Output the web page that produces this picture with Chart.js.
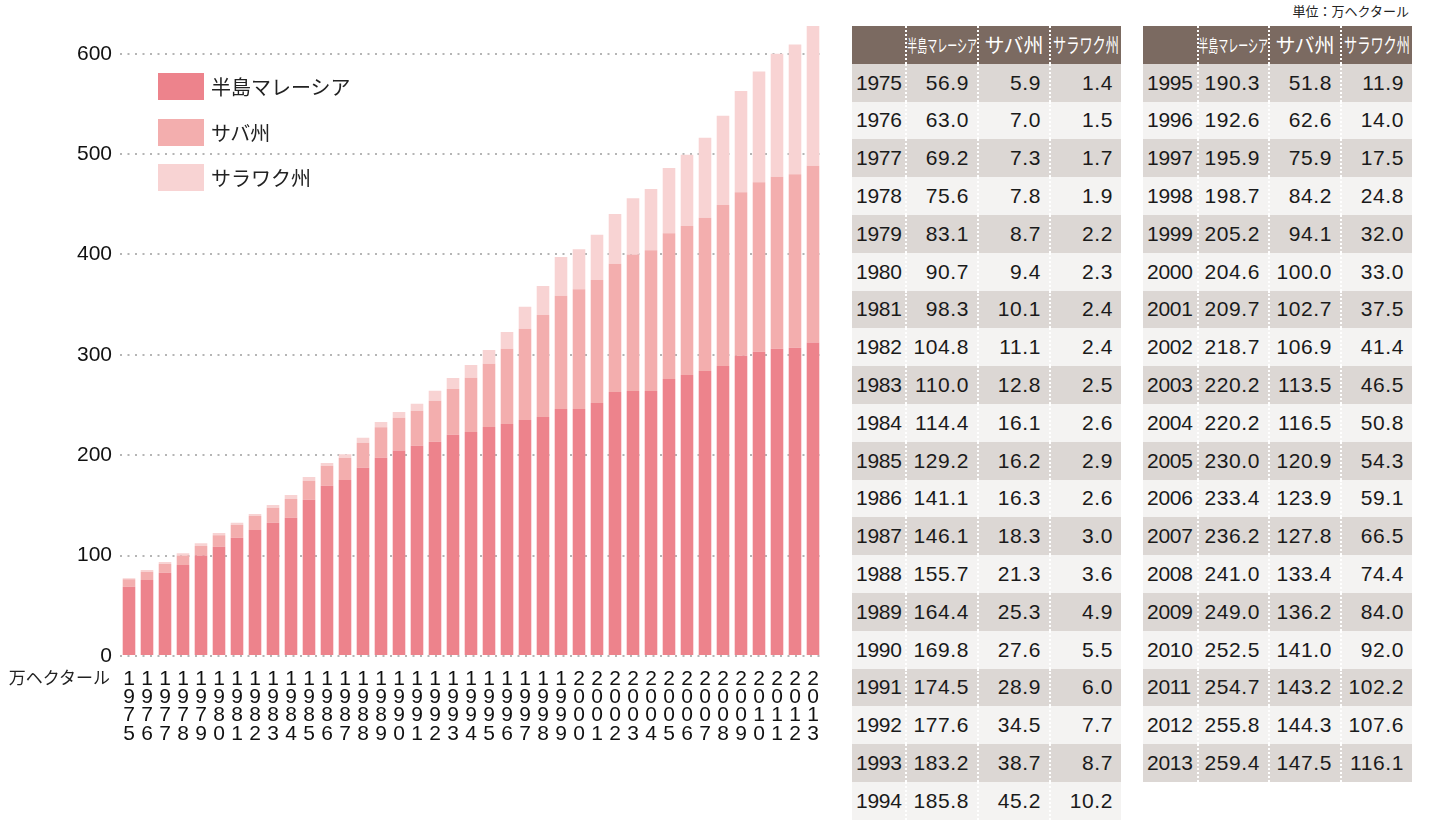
<!DOCTYPE html>
<html lang="ja">
<head>
<meta charset="utf-8">
<script src="https://cdn.jsdelivr.net/npm/chart.js@4.4.1/dist/chart.umd.min.js"></script>
<style>
  body { margin: 0; background: #fff; font-family: "Liberation Sans", "Noto Sans CJK JP", sans-serif; }
  #wrap { position: relative; width: 1444px; height: 820px; overflow: hidden; }
  #chart { position: absolute; left: 0; top: 0; }
  #legend { position: absolute; left: 158px; top: 73px; }
  .lg { display: flex; align-items: center; height: 27px; margin-bottom: 18.5px; font: 20px "Noto Sans CJK JP", sans-serif; color: #222; }
  .lg i { display: block; width: 46px; height: 27px; margin-right: 7px; }
  #unitY { position: absolute; right: calc(1444px - 110px); top: 664px; font: 17px "Noto Sans CJK JP", sans-serif; color: #222; }
  #unitT { position: absolute; right: calc(1444px - 1409px); top: 1px; font: 13px "Noto Sans CJK JP", sans-serif; color: #222; }
  .tbl { position: absolute; top: 26px; }
  .row { display: flex; height: 37.8px; }
  .row div { box-sizing: border-box; display: flex; align-items: center; justify-content: flex-end; padding-right: 8px; font-size: 21px; letter-spacing: 0.6px; color: #1a1a1a; overflow: hidden; }
  .row div:first-child { justify-content: flex-start; padding: 0 0 0 4px; letter-spacing: -0.3px; }
  .row div + div { border-left: 2px dotted #fff; }
  .head { background: #7b6a61; }
  .head div { justify-content: center !important; padding: 0 !important; color: #fff !important; font-family: "Noto Sans CJK JP", sans-serif; letter-spacing: 0 !important; }
  .head span { display: inline-block; white-space: nowrap; }
  .dark { background: #dcd7d4; }
  .light { background: #f4f3f2; }
</style>
</head>
<body>
<div id="wrap">
  <canvas id="chart" width="840" height="820"></canvas>
  <div id="legend"></div>
  <div id="unitY">万ヘクタール</div>
  <div id="unitT">単位：万ヘクタール</div>
</div>
<script>
// chart bars
const years = ['1975','1976','1977','1978','1979','1980','1981','1982','1983','1984',
  '1985','1986','1987','1988','1989','1990','1991','1992','1993','1994',
  '1995','1996','1997','1998','1999','2000','2001','2002','2003','2004',
  '2005','2006','2007','2008','2009','2010','2011','2012','2013'];

const peninsula = [69.0, 75.7, 83.0, 90.7, 100.0, 108.9, 117.9, 125.5, 132.8, 137.8,
  155.7, 169.7, 175.3, 187.6, 197.6, 204.6, 209.5, 213.5, 220.5, 223.2,
  228.1, 231.1, 235.1, 238.1, 246.1, 246.1, 252.0, 263.0, 264.0, 264.0,
  276.0, 279.9, 283.9, 288.9, 299.2, 303.2, 306.2, 307.2, 312.2];
const sabah = [7.4, 8.3, 8.7, 9.3, 9.6, 11.3, 12.6, 14.0, 15.0, 18.6,
  19.0, 19.9, 22.0, 24.9, 30.2, 32.8, 34.9, 40.9, 45.5, 54.1,
  63.1, 75.1, 90.9, 101.6, 112.9, 119.2, 122.6, 127.8, 136.1, 140.1,
  145.1, 148.5, 152.8, 160.4, 162.7, 168.7, 171.3, 172.6, 176.3];
const sarawak = [1.0, 1.7, 1.9, 2.3, 2.6, 2.3, 2.3, 2.0, 2.6, 4.0,
  3.6, 2.7, 3.6, 5.0, 5.3, 5.7, 7.0, 9.9, 10.9, 12.6,
  13.6, 16.6, 22.0, 28.9, 38.5, 39.8, 45.1, 49.5, 55.8, 61.1,
  65.1, 71.0, 79.7, 89.0, 101.0, 110.5, 122.5, 129.5, 139.1];

const seriesNames = ['半島マレーシア', 'サバ州', 'サラワク州'];
const seriesColors = ['#ed838c', '#f3aeae', '#f8d3d3'];
const yTicks = [0, 100, 200, 300, 400, 500, 600];

// table values (as printed)
const tblYears = years;
const tblPeninsula = ['56.9','63.0','69.2','75.6','83.1','90.7','98.3','104.8','110.0','114.4',
  '129.2','141.1','146.1','155.7','164.4','169.8','174.5','177.6','183.2','185.8',
  '190.3','192.6','195.9','198.7','205.2','204.6','209.7','218.7','220.2','220.2',
  '230.0','233.4','236.2','241.0','249.0','252.5','254.7','255.8','259.4'];
const tblSabah = ['5.9','7.0','7.3','7.8','8.7','9.4','10.1','11.1','12.8','16.1',
  '16.2','16.3','18.3','21.3','25.3','27.6','28.9','34.5','38.7','45.2',
  '51.8','62.6','75.9','84.2','94.1','100.0','102.7','106.9','113.5','116.5',
  '120.9','123.9','127.8','133.4','136.2','141.0','143.2','144.3','147.5'];
const tblSarawak = ['1.4','1.5','1.7','1.9','2.2','2.3','2.4','2.4','2.5','2.6',
  '2.9','2.6','3.0','3.6','4.9','5.5','6.0','7.7','8.7','10.2',
  '11.9','14.0','17.5','24.8','32.0','33.0','37.5','41.4','46.5','50.8',
  '54.3','59.1','66.5','74.4','84.0','92.0','102.2','107.6','116.1'];

// legend
const legend = document.getElementById('legend');
seriesNames.forEach((name, i) => {
  const d = document.createElement('div');
  d.className = 'lg';
  d.innerHTML = '<i style="background:' + seriesColors[i] + '"></i>' + name;
  legend.appendChild(d);
});

// tables
const buildTable = (left, widths, from, to) => {
  const t = document.createElement('div');
  t.className = 'tbl';
  t.style.left = left + 'px';
  const head = document.createElement('div');
  head.className = 'row head';
  const headText = [
    ['', 1, 18],
    [seriesNames[0], 0.57, 17.5],
    [seriesNames[1], 1.0, 20],
    [seriesNames[2], 0.66, 20],
  ];
  headText.forEach(([txt, sx, fs], c) => {
    const cell = document.createElement('div');
    cell.style.width = widths[c] + 'px';
    cell.innerHTML = '<span style="font-size:' + fs + 'px;transform:scaleX(' + sx + ')">' + txt + '</span>';
    head.appendChild(cell);
  });
  t.appendChild(head);
  for (let i = from; i < to; i++) {
    const r = document.createElement('div');
    r.className = 'row ' + ((i - from) % 2 === 0 ? 'dark' : 'light');
    [tblYears[i], tblPeninsula[i], tblSabah[i], tblSarawak[i]].forEach((v, c) => {
      const cell = document.createElement('div');
      cell.style.width = widths[c] + 'px';
      cell.textContent = v;
      r.appendChild(cell);
    });
    t.appendChild(r);
  }
  document.getElementById('wrap').appendChild(t);
};
buildTable(852, [53, 72, 72, 72], 0, 20);
buildTable(1143, [54, 71, 72, 72], 20, 39);

// chart
const ctx = document.getElementById('chart');
new Chart(ctx, {
  type: 'bar',
  data: {
    labels: years.map(y => y.split('')),
    datasets: seriesNames.map((name, i) => ({
      label: name,
      data: [peninsula, sabah, sarawak][i],
      backgroundColor: seriesColors[i],
      borderWidth: 0,
      barPercentage: 0.7,
      categoryPercentage: 1,
    })),
  },
  options: {
    responsive: false,
    animation: false,
    layout: { padding: { top: 23.6, right: 18, left: 0, bottom: 0 } },
    plugins: { legend: { display: false }, tooltip: { enabled: false } },
    scales: {
      x: {
        stacked: true,
        grid: { display: false },
        border: { display: false },
        afterFit: (s) => { s.height = 164; },
        ticks: {
          autoSkip: false,
          maxRotation: 0,
          padding: 6,
          color: '#111',
          font: { family: '"Liberation Sans Narrow", "Liberation Sans", sans-serif', size: 21, lineHeight: 0.87 },
        },
      },
      y: {
        stacked: true,
        min: 0,
        max: 630,
        afterFit: (s) => { s.width = 120; },
        afterBuildTicks: (s) => { s.ticks = yTicks.map(v => ({ value: v })); },
        grid: { color: '#b5b5b5', lineWidth: 2, drawTicks: false },
        border: { display: false, dash: [2, 5.5] },
        ticks: {
          padding: 8,
          color: '#111',
          font: { family: '"Liberation Sans", sans-serif', size: 21 },
        },
      },
    },
  },
});
</script>
</body>
</html>
